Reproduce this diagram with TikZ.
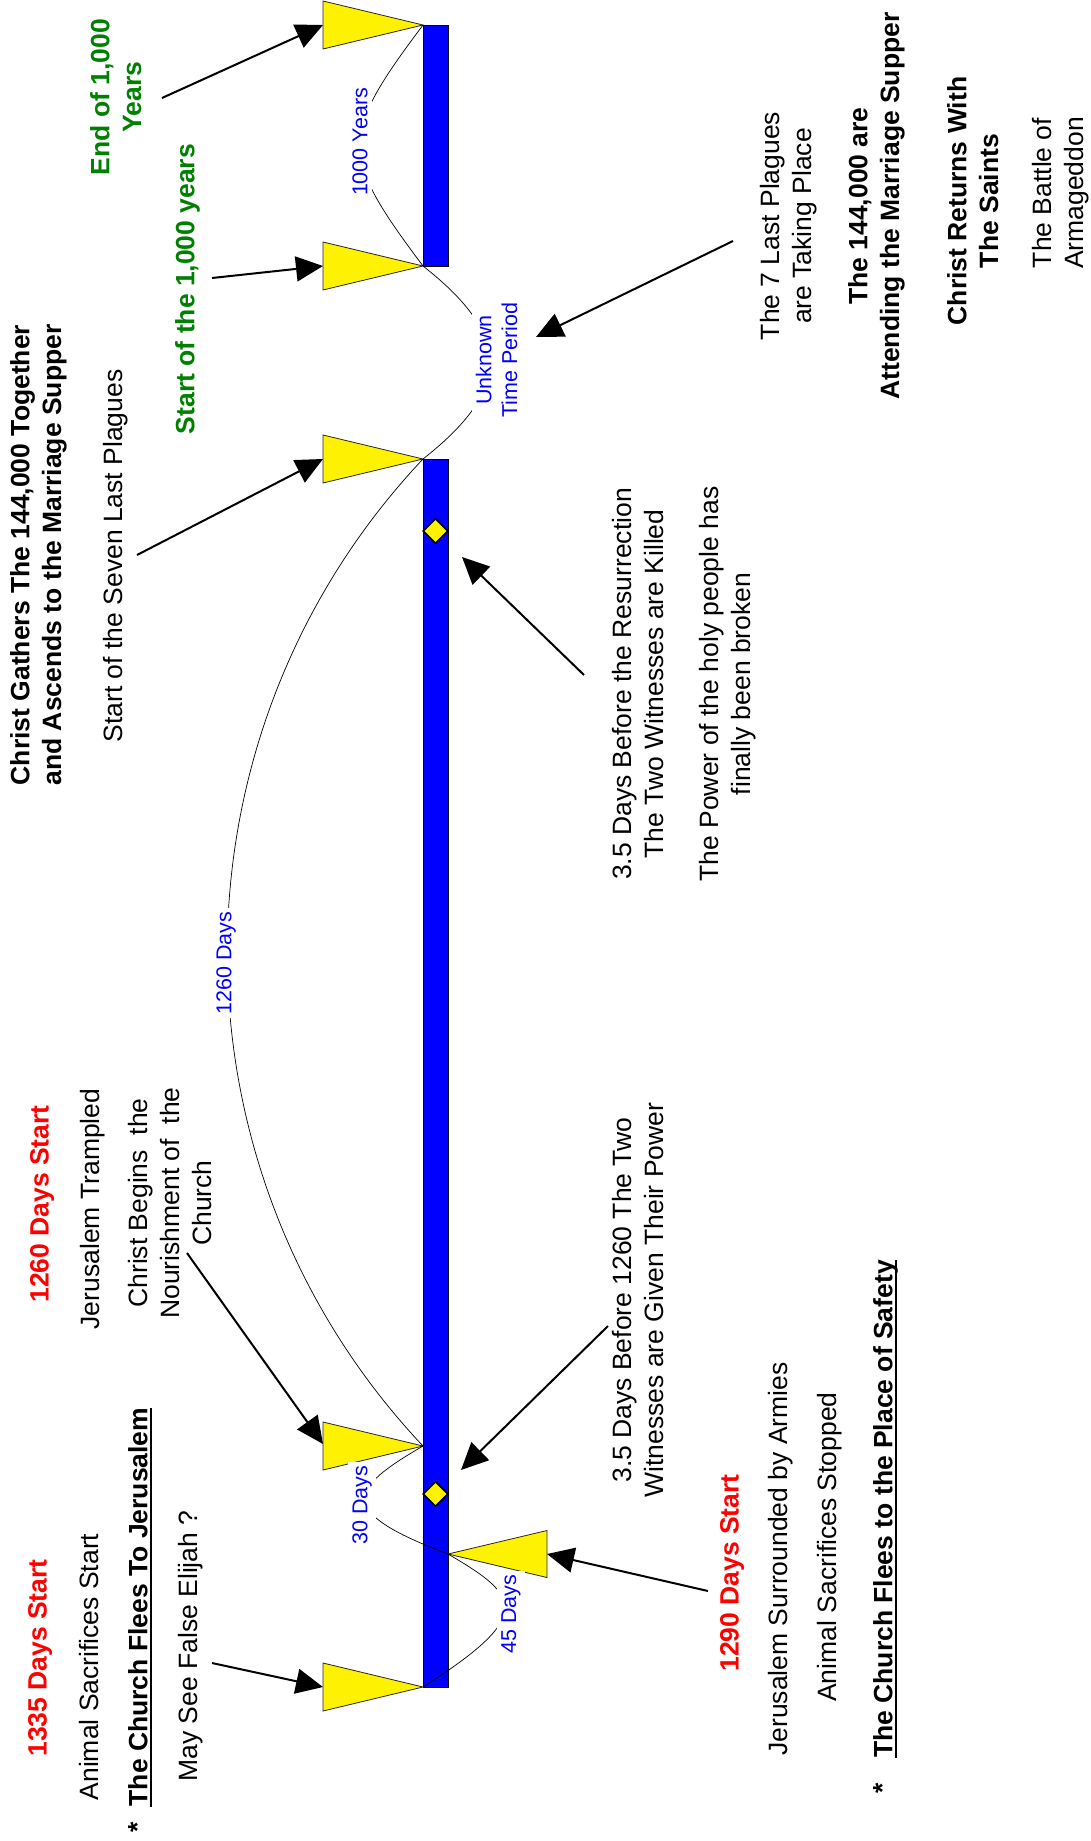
\documentclass[tikz,border=0pt]{standalone}
\usepackage{fontspec}
\setmainfont{Liberation Sans}
\usepackage{xcolor}
\usepackage{tikz}
\usetikzlibrary{shapes.geometric, arrows.meta}
\definecolor{darkgreen}{RGB}{0,128,0}
\newcommand{\bigtxt}{\fontsize{26.5pt}{31.8pt}\selectfont}
\newcommand{\smalltxt}{\fontsize{21.5pt}{25.8pt}\selectfont}
\tikzstyle{txt} = [rotate=90, anchor=north, inner sep=0pt, align=center, font=\bigtxt]
\tikzstyle{boldtxt} = [txt, font=\bigtxt\bfseries]
\tikzstyle{reddays} = [boldtxt, text=red]
\tikzstyle{greenyears} = [boldtxt, text=darkgreen]
\tikzstyle{spanlabel} = [rotate=90, inner sep=4pt, fill=white, align=center, text=blue, font=\smalltxt]
\tikzstyle{flag} = [fill=yellow, draw=black!85, line width=0.8pt]
\tikzstyle{gem} = [diamond, minimum size=25pt, inner sep=0pt, fill=yellow, draw=black, line width=1.6pt]
\tikzstyle{bar} = [fill=blue, draw=black, line width=0.8pt]
\tikzstyle{spanarc} = [black, line width=0.7pt]
\tikzstyle{arrow} = [line width=2pt, -{Triangle[length=27pt, width=25pt]}]
\tikzstyle{uline} = [line width=2.6pt]

\begin{document}
\begin{tikzpicture}[x=1pt, y=-1pt]
    \useasboundingbox (0,0) rectangle (1091,1841);
    % timeline bars
    \filldraw[bar] (423,25) rectangle (448,266);
    \filldraw[bar] (423,459) rectangle (448,1687);
    % apex points of the markers
    \coordinate (m1) at (423,25);
    \coordinate (m2) at (423,266);
    \coordinate (m3) at (423,459);
    \coordinate (m4) at (423,1446);
    \coordinate (m5) at (423,1687);
    \coordinate (m6) at (448,1554);
    \foreach \m in {m1,m2,m3,m4,m5}
        \filldraw[flag] (\m) -- ++(-100,-24) -- ++(0,48) -- cycle;
    \filldraw[flag] (m6) -- ++(99,-23.5) -- ++(0,47) -- cycle;
    % base centres, where the arrows land
    \coordinate (base1) at (323,25);
    \coordinate (base2) at (323,266);
    \coordinate (base3) at (323,459);
    \coordinate (base4) at (323,1444);
    \coordinate (base5) at (323,1687);
    \coordinate (base6) at (547,1554);
    % spans between markers
    \draw[spanarc] (m1) .. controls +(-84,112) and +(-84,-112) .. (m2);
    \draw[spanarc] (m2) .. controls +(89,70) and +(89,-70) .. (m3);
    \draw[spanarc] (m3) .. controls +(-261,277) and +(-261,-277) .. (m4);
    \draw[spanarc] (m4) .. controls +(-74,43) and +(-114,-43) .. (m6);
    \draw[spanarc] (m6) .. controls +(72,42) and +(113,-72) .. (m5);
    \node (yrs1000) [spanlabel] at (360,142) {1000 Years};
    \node (unknown) [spanlabel] at (496.5,360) {Unknown\\Time Period};
    \node (span1260) [spanlabel] at (226,963) {1260 Days};
    \node (span30) [spanlabel] at (362,1505) {30 Days};
    \node (span45) [spanlabel] at (511,1614) {45 Days};
    % witnesses
    \node (gem1) [gem] at (435.5,531) {};
    \node (gem2) [gem] at (435.5,1494) {};

    % left side texts
    \node (days1335) [reddays] at (28,1658) {1335 Days Start};
    \node (sacstart) [txt] at (79,1667) {Animal Sacrifices Start};
    \node (fleejer) [boldtxt, text depth=0pt] at (128,1607) {The Church Flees To Jerusalem};
    \node (star1) [boldtxt] at (128,1827) {*};
    \node (elijah) [txt] at (178,1646) {May See False Elijah ?};
    \node (days1260) [reddays] at (30,1204) {1260 Days Start};
    \node (trampled) [txt] at (80,1209) {Jerusalem Trampled};
    \node (nourish) [txt] at (128,1203) {Christ Begins\ \ the\\Nourishment of\ \ the\\Church};
    \node (gathers) [boldtxt] at (10,555) {Christ Gathers The 144,000 Together\\and Ascends to the Marriage Supper};
    \node (sevenlast) [txt] at (103,556) {Start of the Seven Last Plagues};
    \node (start1000) [greenyears] at (175,289) {Start of the 1,000 years};
    \node (end1000) [greenyears] at (90,97) {End of 1,000\\Years};
    % right side texts
    \node (given) [txt] at (612,1300) {3.5 Days Before 1260 The Two\\Witnesses are Given Their Power};
    \node (days1290) [reddays] at (720,1573) {1290 Days Start};
    \node (armies) [txt] at (768,1559) {Jerusalem Surrounded by Armies};
    \node (sacstop) [txt] at (817,1547) {Animal Sacrifices Stopped};
    \node (fleesafe) [boldtxt, text depth=0pt] at (873,1509) {The Church Flees to the Place of Safety};
    \node (star2) [boldtxt] at (873,1788) {*};
    \node (killed) [txt] at (612,684) {3.5 Days Before the Resurrection\\The Two Witnesses are Killed};
    \node (broken) [txt] at (699,684) {The Power of the holy people has\\finally been broken};
    \node (takingplace) [txt] at (760,226) {The 7 Last Plagues\\are Taking Place};
    \node (attending) [boldtxt] at (848,206) {The 144,000 are\\Attending the Marriage Supper};
    \node (returns) [boldtxt] at (947,201) {Christ Returns With\\The Saints};
    \node (armageddon) [txt] at (1032,193) {The Battle of\\Armageddon};
    \draw[uline] ([xshift=3.5pt]fleejer.south west) -- ([xshift=3.5pt]fleejer.south east);
    \draw[uline] ([xshift=3.5pt]fleesafe.south west) -- ([xshift=3.5pt]fleesafe.south east);

    % arrow tails and free heads
    \coordinate (endtail) at (162,98);
    \coordinate (starttail) at (212,278);
    \coordinate (plaguestail) at (137,555);
    \coordinate (placetail) at (733,241);
    \coordinate (unknownhead) at (536,337);
    \coordinate (killedtail) at (584,675);
    \coordinate (killedhead) at (462,557);
    \coordinate (nourishtail) at (187,1253);
    \coordinate (giventail) at (608,1326);
    \coordinate (givenhead) at (461,1470);
    \coordinate (days1290tail) at (708,1591);
    \coordinate (elijahtail) at (212,1663);
    \draw [arrow] (endtail) -- (base1);
    \draw [arrow] (starttail) -- (base2);
    \draw [arrow] (plaguestail) -- (base3);
    \draw [arrow] (placetail) -- (unknownhead);
    \draw [arrow] (killedtail) -- (killedhead);
    \draw [arrow] (nourishtail) -- (base4);
    \draw [arrow] (giventail) -- (givenhead);
    \draw [arrow] (days1290tail) -- (base6);
    \draw [arrow] (elijahtail) -- (base5);
\end{tikzpicture}
\end{document}
